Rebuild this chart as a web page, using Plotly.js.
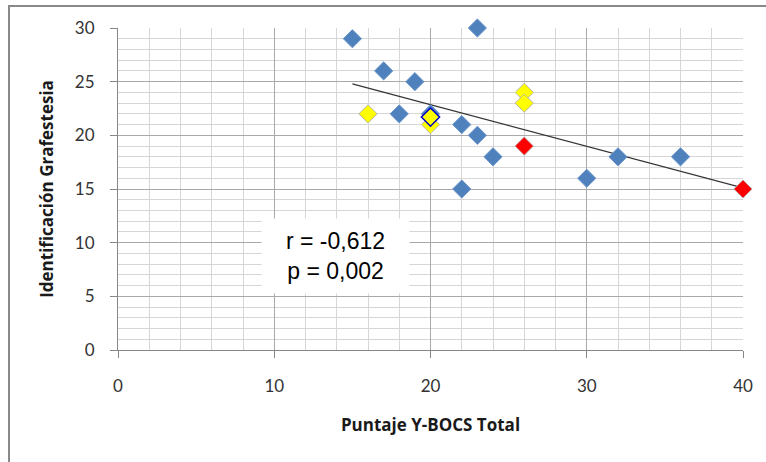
<!DOCTYPE html>
<html>
<head>
<meta charset="utf-8">
<script src="https://cdn.plot.ly/plotly-3.0.1.min.js"></script>
<style>
html,body{margin:0;padding:0;background:#fff;overflow:hidden;}
#wrap{position:relative;width:766px;height:462px;}
#frame{position:absolute;left:8px;top:5px;width:800px;height:500px;border:2px solid #898989;pointer-events:none;box-sizing:border-box;}
</style>
</head>
<body>
<div id="wrap"><div id="chart" style="width:766px;height:462px;"></div><div id="frame"></div></div>
<script>
// Data
const blueX = [15, 23, 17, 19, 18, 20, 22, 23, 24, 22, 30, 32, 36];
const blueY = [29, 30, 26, 25, 22, 22, 21, 20, 18, 15, 16, 18, 18];
const yellowX = [16, 20, 26, 26];
const yellowY = [22, 21, 24, 23];
const yellowBlueEdgeX = [20];
const yellowBlueEdgeY = [21.7];
const redX = [26, 40];
const redY = [19, 15];
const trendX = [15, 40];
const trendY = [24.8, 15.1];
const statsText = ["r = -0,612", "p = 0,002"];
const xTitle = "Puntaje Y-BOCS Total";
const yTitle = "Identificación Grafestesia";

const mk = {symbol: 'diamond', size: 14};
const traces = [
  {x: trendX, y: trendY, mode: 'lines', line: {color: '#333333', width: 1.2}, hoverinfo: 'skip', cliponaxis: false},
  {x: blueX, y: blueY, mode: 'markers', cliponaxis: false, marker: Object.assign({}, mk, {color: '#4f81bd', line: {color: '#6a96cc', width: 1}})},
  {x: yellowX, y: yellowY, mode: 'markers', cliponaxis: false, marker: Object.assign({}, mk, {color: '#ffff00', line: {color: '#b8b8a0', width: 1}})},
  {x: yellowBlueEdgeX, y: yellowBlueEdgeY, mode: 'markers', cliponaxis: false, marker: Object.assign({}, mk, {color: '#ffff00', line: {color: '#0000cc', width: 1.5}})},
  {x: redX, y: redY, mode: 'markers', cliponaxis: false, marker: Object.assign({}, mk, {color: '#ff0000', line: {color: '#c0a0a0', width: 1}})}
];

const titleFont = {size: 17, color: '#1a1a1a', family: '"Open Sans", Lato, sans-serif', weight: 'bold'};
const tickFont = {size: 17, color: '#333333', family: 'Lato, "Open Sans", sans-serif'};

const layout = {
  width: 766, height: 462,
  margin: {l: 118, r: 23, t: 28, b: 112},
  showlegend: false,
  paper_bgcolor: '#ffffff', plot_bgcolor: '#ffffff',
  font: {family: 'Lato, "Open Sans", sans-serif', size: 17, color: '#333333'},
  xaxis: {
    range: [0, 40], dtick: 10, tick0: 0,
    showgrid: true, gridcolor: '#a9a9a9', gridwidth: 1,
    minor: {dtick: 2, showgrid: true, gridcolor: '#d6d6d6', gridwidth: 1},
    showline: true, linecolor: '#868686', linewidth: 1,
    ticks: 'outside', ticklen: 7, tickcolor: '#868686',
    ticklabelstandoff: 14,
    zeroline: false, fixedrange: true,
    tickfont: tickFont,
    title: {text: xTitle, standoff: 23, font: titleFont}
  },
  yaxis: {
    range: [0, 30], dtick: 5, tick0: 0,
    showgrid: true, gridcolor: '#a9a9a9', gridwidth: 1,
    minor: {dtick: 1, showgrid: true, gridcolor: '#d6d6d6', gridwidth: 1},
    showline: true, linecolor: '#868686', linewidth: 1,
    ticks: 'outside', ticklen: 7, tickcolor: '#868686',
    ticklabelstandoff: 12,
    zeroline: false, fixedrange: true,
    tickfont: tickFont,
    title: {text: yTitle, standoff: 16, font: titleFont}
  },
  annotations: [{
    x: 13.9, y: 8.76, xref: 'x', yref: 'y',
    text: statsText.join('<br>'), showarrow: false,
    font: {family: '"Liberation Sans", Arial, sans-serif', size: 23, color: '#000'},
    bgcolor: '#ffffff', width: 145, height: 72, align: 'center', valign: 'middle'
  }]
};

Plotly.newPlot('chart', traces, layout, {displayModeBar: false, staticPlot: true});
</script>
</body>
</html>
